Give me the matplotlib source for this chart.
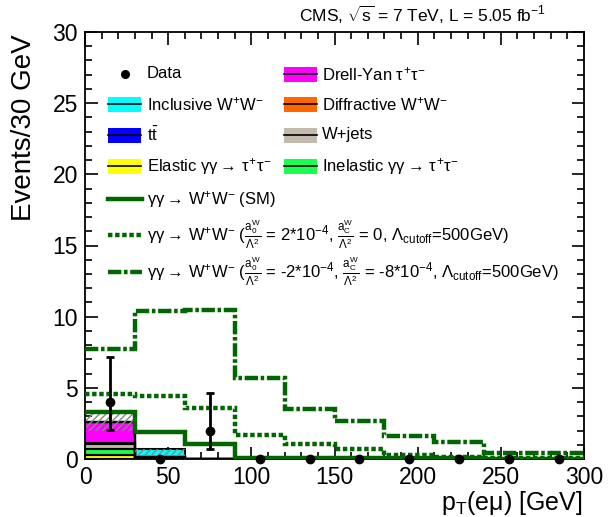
import numpy as np
import matplotlib
matplotlib.use("Agg")
import matplotlib.pyplot as plt
from matplotlib.patches import Rectangle
from matplotlib.lines import Line2D
from matplotlib.ticker import MultipleLocator

plt.rcParams['font.family'] = ['Liberation Sans', 'DejaVu Sans']
plt.rcParams['mathtext.fontset'] = 'custom'
plt.rcParams['mathtext.rm'] = 'Liberation Sans'
plt.rcParams['mathtext.it'] = 'Liberation Sans'
plt.rcParams['mathtext.bf'] = 'Liberation Sans:bold'

# ---------------- data ----------------
bin_edges = np.arange(0, 301, 30)
bin_centers = (bin_edges[:-1] + bin_edges[1:]) / 2

data_counts = [4, 0, 2, 0, 0, 0, 0, 0, 0, 0]
data_err_lo = [1.96, 0, 1.29, 0, 0, 0, 0, 0, 0, 0]
data_err_hi = [3.16, 0, 2.64, 0, 0, 0, 0, 0, 0, 0]

elastic_tautau = [0.30, 0, 0, 0, 0, 0, 0, 0, 0, 0]
inelastic_tautau = [0.40, 0, 0, 0, 0, 0, 0, 0, 0, 0]
wjets = [0.35, 0.15, 0.02, 0, 0, 0, 0, 0, 0, 0]
ttbar = [0.05, 0, 0, 0, 0, 0, 0, 0, 0, 0]
drell_yan = [1.50, 0, 0, 0, 0, 0, 0, 0, 0, 0]
diffractive_ww = [0.0, 0.02, 0, 0, 0, 0, 0, 0, 0, 0]
inclusive_ww = [0.0, 0.50, 0, 0, 0, 0, 0, 0, 0, 0]
unc_lo = [1.95, 0.20, 0, 0, 0, 0, 0, 0, 0, 0]
unc_hi = [3.25, 0.70, 0, 0, 0, 0, 0, 0, 0, 0]

sm_ww = [3.3, 1.9, 1.05, 0.05, 0.05, 0.05, 0.05, 0.04, 0.03, 0.03]
aqgc1 = [4.55, 4.4, 3.6, 1.7, 1.05, 0.7, 0.25, 0.15, 0.10, 0.10]
aqgc2 = [7.7, 10.4, 10.5, 5.7, 3.5, 2.7, 1.6, 1.2, 0.45, 0.40]

stack_components = [
    ("Elastic $\\gamma\\gamma\\rightarrow\\,\\tau^{+}\\tau^{-}$", elastic_tautau, "#ffff00"),
    ("Inelastic $\\gamma\\gamma\\rightarrow\\,\\tau^{+}\\tau^{-}$", inelastic_tautau, "#19ff4d"),
    ("W+jets", wjets, "#c3b9ad"),
    ("t$\\bar{\\mathrm{t}}$", ttbar, "#0000ff"),
    ("Drell-Yan $\\tau^{+}\\tau^{-}$", drell_yan, "#ff00ff"),
    ("Diffractive W$^{+}$W$^{-}$", diffractive_ww, "#ff6600"),
    ("Inclusive W$^{+}$W$^{-}$", inclusive_ww, "#00ffff"),
]

W, H = 608, 517
fig = plt.figure(figsize=(W / 100, H / 100), dpi=100)
ax = fig.add_axes([85 / W, 1 - 459 / H, 499 / W, 427 / H])

# stacked backgrounds
bottom = np.zeros(len(bin_centers))
for label, vals, col in stack_components:
    vals = np.asarray(vals, float)
    ax.stairs(bottom + vals, bin_edges, baseline=bottom.copy(), fill=True,
              color=col, zorder=2)
    ax.stairs(bottom + vals, bin_edges, baseline=bottom.copy(), fill=False,
              color="black", lw=1.5, zorder=2.1)
    bottom = bottom + vals

# uncertainty band
ax.stairs(unc_hi, bin_edges, baseline=unc_lo, fill=True, facecolor="none",
          edgecolor="#888888", hatch="/////", lw=0, zorder=2.5)

green = "#006600"
ax.stairs(sm_ww, bin_edges, baseline=None, color=green, lw=3.2, zorder=3)
ax.stairs(aqgc1, bin_edges, baseline=None, color=green, lw=3.2,
          linestyle=(0, (1.0, 0.6)), zorder=3)
ax.stairs(aqgc2, bin_edges, baseline=None, color=green, lw=3.2,
          linestyle=(0, (3.0, 0.6, 0.8, 0.6)), zorder=3)

# data
dc = np.asarray(data_counts, float)
ax.errorbar(bin_centers, dc, yerr=[data_err_lo, data_err_hi], fmt="o",
            color="black", ms=6, lw=2, capsize=3, capthick=2, zorder=5,
            clip_on=False)

ax.set_xlim(0, 300)
ax.set_ylim(0, 30)
ax.xaxis.set_major_locator(MultipleLocator(50))
ax.xaxis.set_minor_locator(MultipleLocator(10))
ax.yaxis.set_major_locator(MultipleLocator(5))
ax.yaxis.set_minor_locator(MultipleLocator(1))
ax.tick_params(which="both", direction="in", top=True, right=True, width=1.2,
               labelsize=16.5, colors="black")
ax.tick_params(which="major", length=9)
ax.tick_params(axis="x", which="major", pad=5)
ax.tick_params(axis="y", which="major", pad=5)
ax.tick_params(which="minor", length=5)
for s in ax.spines.values():
    s.set_linewidth(1.3)

fig.text(583 / W, 1 - 503 / H, r"p$_{\mathrm{T}}$(e$\mu$) [GeV]", ha="right",
         va="center", fontsize=18)
fig.text(24 / W, 1 - 34 / H, "Events/30 GeV", rotation=90, ha="center",
         va="top", fontsize=20)
fig.text(546 / W, 1 - 15 / H, r"CMS, $\sqrt{\mathrm{s}}$ = 7 TeV, L = 5.05 fb$^{-1}$",
         ha="right", va="center", fontsize=12.5)

# ---------------- legend (manual layout) ----------------
def fx(x):
    return x / W

def fy(y):
    return 1 - y / H

def swatch(x0, yc, col):
    fig.add_artist(Rectangle((fx(x0), fy(yc + 7.5)), 33 / W, 15 / H,
                             transform=fig.transFigure, facecolor=col,
                             edgecolor="none"))
    fig.add_artist(Line2D([fx(x0), fx(x0 + 33)], [fy(yc), fy(yc)],
                          transform=fig.transFigure, color="black", lw=1.2))

leg_fs = 12
comp = {lab: col for lab, _, col in stack_components}
labels = [lab for lab, _, _ in stack_components]
# left column
fig.add_artist(Line2D([fx(125)], [fy(74)], transform=fig.transFigure,
                      marker="o", color="black", ms=5.5, lw=0))
fig.text(fx(147), fy(74), "Data", fontsize=leg_fs, va="center")
left_rows = [(labels[6], 104), (labels[3], 135), (labels[0], 166)]
right_rows = [(labels[4], 74), (labels[5], 104), (labels[2], 135), (labels[1], 166)]
for lab, yc in left_rows:
    swatch(108, yc, comp[lab])
    fig.text(fx(147), fy(yc), lab, fontsize=leg_fs, va="center")
for lab, yc in right_rows:
    swatch(284, yc, comp[lab])
    fig.text(fx(322), fy(yc), lab, fontsize=leg_fs, va="center")

line_rows = [
    (r"$\gamma\gamma\rightarrow\,$W$^{+}$W$^{-}$ (SM)", 199, "-"),
    (r"$\gamma\gamma\rightarrow\,$W$^{+}$W$^{-}$ ($\frac{\mathrm{a}_0^{\mathrm{W}}}{\Lambda^2}$ = 2*10$^{-4}$, "
     r"$\frac{\mathrm{a}_{\mathrm{C}}^{\mathrm{W}}}{\Lambda^2}$ = 0, $\Lambda_{\mathrm{cutoff}}$=500GeV)", 235,
     (0, (1.0, 0.6))),
    (r"$\gamma\gamma\rightarrow\,$W$^{+}$W$^{-}$ ($\frac{\mathrm{a}_0^{\mathrm{W}}}{\Lambda^2}$ = -2*10$^{-4}$, "
     r"$\frac{\mathrm{a}_{\mathrm{C}}^{\mathrm{W}}}{\Lambda^2}$ = -8*10$^{-4}$, $\Lambda_{\mathrm{cutoff}}$=500GeV)", 272,
     (0, (3.0, 0.6, 0.8, 0.6))),
]
for lab, yc, ls in line_rows:
    fig.add_artist(Line2D([fx(108), fx(142)], [fy(yc), fy(yc)],
                          transform=fig.transFigure, color=green, lw=3.2,
                          linestyle=ls))
    fig.text(fx(147), fy(yc), lab, fontsize=leg_fs, va="center")

fig.savefig("out.png", dpi=100)
